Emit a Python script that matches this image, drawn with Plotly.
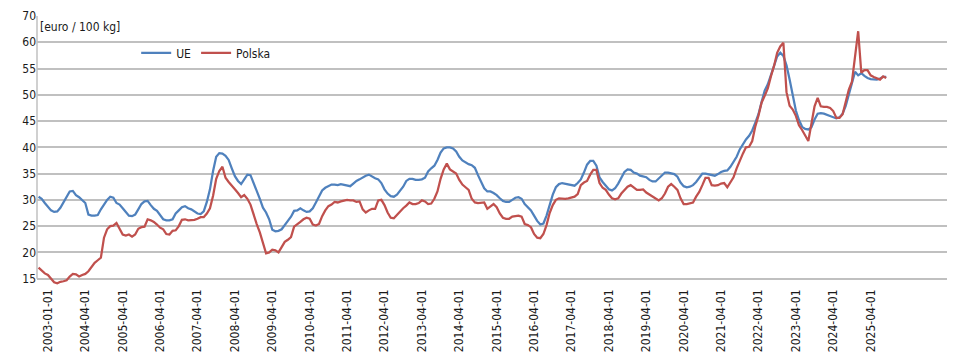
import pandas as pd
import plotly.graph_objects as go

# monthly categories 2003-01 .. 2025-09 (data) ; axis keeps empty slots up to 2027-04
months = [d.strftime("%Y-%m-%d") for d in pd.date_range("2003-01-01", "2027-04-01", freq="MS")]

ue = [
    30.6, 30.2, 29.4, 28.6, 28.0, 27.7, 27.8, 28.5, 29.5, 30.6, 31.6, 31.7,  # 2003
    30.9, 30.5, 30.0, 29.4, 27.2, 27.0, 27.0, 27.1, 28.2, 29.2, 30.0, 30.6,  # 2004
    30.4, 29.4, 29.1, 28.4, 27.6, 27.0, 26.9, 27.2, 28.2, 29.2, 29.7, 29.8,  # 2005
    29.0, 28.3, 27.9, 27.0, 26.3, 26.1, 26.1, 26.3, 27.4, 28.0, 28.6, 28.8,  # 2006
    28.4, 28.2, 27.8, 27.4, 27.3, 27.8, 29.6, 32.0, 35.5, 38.2, 38.9, 38.8,  # 2007
    38.4, 37.6, 36.0, 34.5, 33.6, 33.0, 33.9, 34.8, 34.7, 33.3, 31.8, 30.2,  # 2008
    28.5, 27.6, 26.3, 24.3, 24.0, 24.1, 24.4, 25.3, 26.0, 26.8, 27.9, 28.0,  # 2009
    28.4, 28.0, 27.7, 27.8, 28.4, 29.5, 30.7, 31.8, 32.3, 32.6, 32.9, 32.9,  # 2010
    32.8, 33.0, 32.9, 32.7, 32.6, 33.1, 33.6, 33.9, 34.3, 34.6, 34.8, 34.4,  # 2011
    34.1, 33.9, 33.2, 32.0, 31.2, 30.7, 30.6, 31.0, 31.8, 32.5, 33.6, 34.0,  # 2012
    34.0, 33.8, 33.8, 33.9, 34.2, 35.4, 36.0, 36.5, 37.6, 39.0, 39.8, 40.0,  # 2013
    40.0, 39.8, 39.2, 38.2, 37.5, 37.1, 36.8, 36.6, 36.1, 34.7, 33.4, 32.2,  # 2014
    31.6, 31.6, 31.3, 30.9, 30.3, 29.8, 29.6, 29.6, 30.0, 30.4, 30.5, 30.2,  # 2015
    29.2, 28.6, 28.0, 27.0, 26.0, 25.3, 25.5, 27.0, 29.0, 31.0, 32.4, 33.0,  # 2016
    33.2, 33.1, 32.9, 32.8, 32.7, 33.2, 33.9, 35.2, 36.7, 37.4, 37.4, 36.5,  # 2017
    34.3, 33.4, 32.8, 32.0, 31.8, 32.2, 33.1, 34.3, 35.3, 35.8, 35.7, 35.2,  # 2018
    35.0, 34.6, 34.4, 34.3, 33.8, 33.5, 33.5, 34.1, 34.7, 35.2, 35.2, 35.1,  # 2019
    34.9, 34.4, 33.3, 32.6, 32.4, 32.5, 32.8, 33.4, 34.2, 35.0, 35.0, 34.9,  # 2020
    34.8, 34.6, 34.9, 35.3, 35.5, 35.6, 36.3, 37.3, 38.2, 39.6, 40.7, 41.5,  # 2021
    42.2, 43.2, 44.7, 46.3, 48.6, 50.8, 52.0, 53.6, 55.5, 57.3, 58.0, 57.4,  # 2022
    55.6, 52.9, 49.7, 47.0, 45.2, 43.9, 43.5, 43.4, 43.8, 45.3, 46.4, 46.5,  # 2023
    46.4, 46.2, 46.0, 45.8, 45.5, 45.7, 46.4, 47.9, 50.2, 52.6, 54.4, 53.7,  # 2024
    54.1, 53.6, 53.2, 53.0, 52.9, 52.9, 53.1, 53.4, 53.4,                    # 2025
]

polska = [
    17.1, 16.6, 16.0, 15.7, 15.0, 14.3, 14.1, 14.4, 14.5, 14.7, 15.4, 15.9,  # 2003
    15.8, 15.4, 15.7, 15.9, 16.4, 17.3, 18.0, 18.5, 19.0, 22.8, 24.4, 25.0,  # 2004
    25.1, 25.6, 24.5, 23.4, 23.2, 23.4, 23.0, 23.4, 24.5, 24.8, 24.9, 26.3,  # 2005
    26.1, 25.8, 25.3, 24.7, 24.4, 23.5, 23.4, 24.1, 24.2, 25.0, 26.2, 26.3,  # 2006
    26.1, 26.1, 26.2, 26.4, 26.7, 26.7, 27.4, 28.4, 30.8, 34.0, 35.5, 36.3,  # 2007
    34.2, 33.4, 32.6, 32.0, 31.3, 30.5, 30.9, 30.2, 29.1, 27.0, 25.4, 23.8,  # 2008
    21.8, 19.8, 20.0, 20.5, 20.4, 20.0, 21.0, 22.0, 22.4, 22.9, 24.9, 25.3,  # 2009
    25.8, 26.3, 26.6, 26.4, 25.3, 25.1, 25.4, 26.9, 28.0, 28.8, 29.1, 29.6,  # 2010
    29.5, 29.7, 29.9, 30.0, 29.9, 29.9, 29.6, 29.7, 28.2, 27.6, 28.0, 28.3,  # 2011
    28.3, 29.9, 30.0, 29.0, 27.6, 26.6, 26.5, 27.2, 27.8, 28.4, 28.9, 29.5,  # 2012
    29.2, 29.2, 29.4, 29.9, 29.7, 29.2, 29.3, 30.2, 31.6, 34.0, 35.8, 36.9,  # 2013
    35.8, 35.4, 35.0, 33.8, 32.9, 32.4, 31.9, 30.2, 29.5, 29.4, 29.4, 29.5,  # 2014
    28.3, 28.8, 29.2, 28.6, 27.4, 26.6, 26.4, 26.4, 26.8, 26.9, 27.0, 26.8,  # 2015
    25.4, 25.2, 24.8, 23.5, 22.8, 22.7, 23.5, 25.2, 27.5, 29.0, 30.0, 30.3,  # 2016
    30.2, 30.2, 30.3, 30.4, 30.6, 31.1, 32.8, 33.3, 33.6, 34.8, 35.7, 35.7,  # 2017
    33.2, 32.3, 31.9, 31.0, 30.3, 30.1, 30.3, 31.2, 31.9, 32.5, 32.8, 32.3,  # 2018
    31.9, 31.9, 32.0, 31.4, 31.0, 30.6, 30.3, 29.9, 30.3, 31.2, 32.5, 33.0,  # 2019
    32.5, 31.9, 30.3, 29.2, 29.2, 29.3, 29.5, 30.6, 31.5, 32.8, 34.2, 34.2,  # 2020
    32.8, 32.7, 32.8, 33.1, 33.2, 32.4, 33.3, 34.3, 36.0, 37.5, 38.8, 40.0,  # 2021
    40.1, 41.2, 44.0, 46.0, 48.5, 49.8, 51.2, 53.5, 55.5, 58.0, 59.2, 59.9,  # 2022
    50.5, 47.9, 47.2, 46.0, 44.2, 43.3, 42.2, 41.2, 44.5, 47.8, 49.4, 47.8,  # 2023
    47.7, 47.7, 47.5, 46.9, 45.6, 45.6, 46.3, 48.6, 51.0, 52.5, 57.5, 62.1,  # 2024
    54.2, 54.7, 54.7, 53.7, 53.4, 53.1, 52.9, 53.5, 53.2,                    # 2025
]

x_tick_pos = ["2003-04-01"] + [f"{y}-04-01" for y in range(2004, 2026)]
x_tick_text = ["2003-01-01"] + [f"{y}-04-01" for y in range(2004, 2026)]
y_tick_vals = [15, 20, 25, 30, 35, 40, 45, 50, 55, 60, 65]
y_tick_text = ["15", "20", "25", "30", "35", "40", "45", "50", "55", "60", "70"]

FONT = "Liberation Sans Narrow, DejaVu Sans Condensed, Arial Narrow, sans-serif"
FS = 12
GRID = "#C0C0C0"

fig = go.Figure()
fig.add_trace(go.Scatter(x=months[:len(ue)], y=ue, name="UE", mode="lines",
                         line=dict(color="#4F81BD", width=2.25)))
fig.add_trace(go.Scatter(x=months[:len(polska)], y=polska, name="Polska", mode="lines",
                         line=dict(color="#C0504D", width=2.25)))

fig.update_layout(
    width=962, height=355,
    margin=dict(l=37, r=15, t=16, b=69, autoexpand=False),
    paper_bgcolor="white", plot_bgcolor="white",
    font=dict(family=FONT, size=FS, color="#1a1a1a"),
    showlegend=True,
    legend=dict(orientation="h", x=0.109, y=0.863, xanchor="left", yanchor="middle",
                font=dict(family=FONT, size=FS, color="#1a1a1a"),
                bgcolor="rgba(0,0,0,0)", itemwidth=30, tracegroupgap=0),
    annotations=[dict(text="[euro / 100 kg]", xref="paper", yref="paper",
                      x=0.001, y=0.961, xanchor="left", yanchor="middle",
                      showarrow=False, font=dict(family=FONT, size=FS, color="#1a1a1a"))],
    shapes=[dict(type="line", xref="paper", yref="y", x0=0, x1=0, y0=15, y1=65,
                 line=dict(color=GRID, width=1.5), layer="below")],
)
fig.update_xaxes(type="category", categoryorder="array", categoryarray=months,
                 range=[-0.5, len(months) - 0.5], automargin=False,
                 tickmode="array", tickvals=x_tick_pos, ticktext=x_tick_text,
                 tickangle=-90, showgrid=False, showline=False, zeroline=False,
                 ticks="", tickfont=dict(family=FONT, size=FS, color="#1a1a1a"))
fig.update_yaxes(range=[13.6, 65], automargin=False,
                 tickmode="array", tickvals=y_tick_vals, ticktext=y_tick_text,
                 showgrid=True, gridcolor=GRID, gridwidth=1.5,
                 showline=False, zeroline=False, ticks="",
                 tickfont=dict(family=FONT, size=FS, color="#1a1a1a"))

fig.write_html("out.html", config={"displayModeBar": False},
               post_script="document.body.style.margin='0px';")
